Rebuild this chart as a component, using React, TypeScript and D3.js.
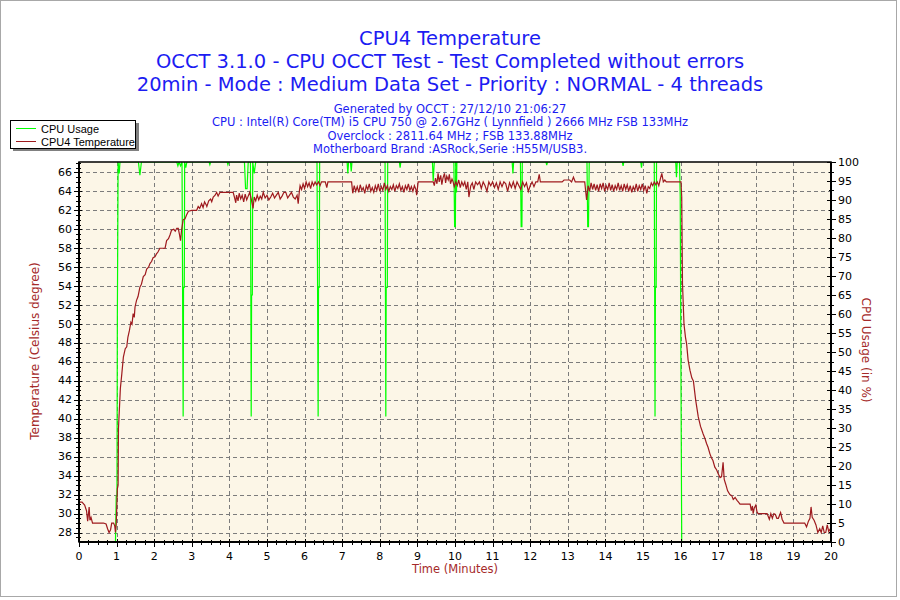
import React from "react";
import * as d3 from "d3";

const titleLines = [
  "CPU4 Temperature",
  "OCCT 3.1.0 - CPU OCCT Test - Test Completed without errors",
  "20min - Mode : Medium Data Set - Priority : NORMAL - 4 threads",
];
const infoLines = [
  "Generated by OCCT : 27/12/10 21:06:27",
  "CPU : Intel(R) Core(TM) i5 CPU 750 @ 2.67GHz ( Lynnfield ) 2666 MHz FSB 133MHz",
  "Overclock : 2811.64 MHz ; FSB 133.88MHz",
  "Motherboard Brand :ASRock,Serie :H55M/USB3.",
];
const legendLabels = ["CPU Usage", "CPU4 Temperature"];
const xTicks = d3.range(0, 21, 1);
const tempTicks = d3.range(28, 67, 2);
const usageTicks = d3.range(0, 101, 5);

// Temperature series: [minutes, °C]
const tempData: [number, number][] = [
  [0.0, 31.2], [0.08, 31.2], [0.15, 30.9], [0.2, 30.3], [0.23, 29.2], [0.25, 29.9], [0.27, 30.7],
  [0.29, 29.3], [0.32, 29.6], [0.36, 29.0], [0.5, 29.0], [0.65, 29.0], [0.72, 28.9], [0.76, 28.4],
  [0.8, 28.0], [0.84, 28.3], [0.87, 29.0], [0.92, 29.0], [0.95, 28.7], [0.97, 28.0], [0.99, 28.9],
  [1.02, 32.6], [1.04, 33.0], [1.05, 39.0], [1.08, 41.5], [1.1, 43.2], [1.14, 44.8], [1.18, 46.5],
  [1.23, 47.4], [1.27, 47.6], [1.3, 48.6], [1.34, 49.3], [1.38, 50.2], [1.41, 50.0], [1.44, 51.1],
  [1.47, 50.7], [1.49, 51.8], [1.53, 52.5], [1.57, 52.9], [1.62, 53.9], [1.66, 54.2], [1.71, 55.0],
  [1.76, 55.2], [1.8, 55.8], [1.85, 56.0], [1.89, 56.4], [1.93, 56.6], [1.97, 57.0], [2.02, 57.1],
  [2.06, 57.4], [2.1, 57.6], [2.15, 58.0], [2.29, 58.0], [2.33, 58.8], [2.38, 59.0], [2.42, 59.4],
  [2.46, 59.9], [2.52, 60.0], [2.56, 59.8], [2.6, 60.1], [2.64, 60.1], [2.67, 59.5], [2.7, 58.8],
  [2.73, 60.0], [2.77, 61.0], [2.82, 61.1], [2.86, 61.5], [2.91, 61.9], [3.0, 62.0], [3.13, 62.0],
  [3.17, 62.4], [3.21, 62.2], [3.26, 62.7], [3.3, 62.3], [3.34, 62.9], [3.38, 62.6], [3.4, 62.4],
  [3.45, 63.0], [3.5, 63.2], [3.53, 62.9], [3.57, 63.4], [3.62, 63.6], [3.66, 63.9], [3.7, 63.5],
  [3.75, 63.9], [3.84, 63.9], [4.1, 63.9], [4.14, 63.3], [4.17, 62.8], [4.19, 63.6], [4.23, 63.0],
  [4.26, 63.8], [4.3, 63.2], [4.34, 63.6], [4.38, 62.9], [4.42, 63.7], [4.46, 63.1], [4.5, 63.5],
  [4.54, 63.9], [4.58, 63.2], [4.63, 62.2], [4.66, 63.4], [4.7, 63.0], [4.74, 63.6], [4.78, 63.1],
  [4.82, 63.5], [4.86, 63.2], [4.9, 63.9], [4.95, 63.3], [5.0, 63.6], [5.05, 63.1], [5.1, 63.4],
  [5.15, 63.8], [5.2, 63.3], [5.25, 63.6], [5.3, 63.9], [5.35, 63.2], [5.4, 63.5], [5.45, 63.9],
  [5.5, 63.9], [5.55, 63.3], [5.6, 63.6], [5.65, 63.9], [5.7, 63.4], [5.75, 63.2], [5.8, 63.6],
  [5.83, 62.7], [5.86, 64.0], [5.88, 64.6], [5.92, 64.2], [5.96, 64.8], [6.0, 64.3], [6.04, 65.0],
  [6.08, 64.5], [6.12, 64.9], [6.16, 64.3], [6.2, 65.0], [6.24, 64.6], [6.28, 65.0], [6.32, 64.7],
  [6.37, 65.0], [6.41, 64.6], [6.45, 65.0], [6.55, 65.0], [6.59, 64.4], [6.62, 65.0], [7.25, 65.0],
  [7.28, 63.8], [7.32, 64.6], [7.36, 64.0], [7.4, 64.5], [7.44, 63.9], [7.48, 64.7], [7.52, 64.1],
  [7.56, 64.4], [7.6, 63.8], [7.64, 64.6], [7.68, 64.2], [7.72, 64.8], [7.76, 64.0], [7.8, 64.4],
  [7.84, 63.9], [7.88, 64.6], [7.92, 64.1], [7.96, 64.8], [8.0, 64.0], [8.04, 64.5], [8.08, 64.1],
  [8.12, 64.9], [8.16, 64.2], [8.2, 64.6], [8.24, 64.0], [8.28, 64.5], [8.32, 64.2], [8.36, 64.7],
  [8.4, 64.0], [8.44, 64.6], [8.48, 64.3], [8.52, 64.8], [8.56, 64.1], [8.6, 64.5], [8.64, 63.9],
  [8.68, 64.6], [8.72, 64.2], [8.76, 64.8], [8.8, 64.1], [8.84, 64.5], [8.88, 64.0], [8.92, 64.6],
  [8.96, 64.2], [8.98, 63.6], [9.02, 65.0], [9.42, 65.0], [9.45, 64.6], [9.48, 65.4], [9.52, 64.8],
  [9.55, 65.9], [9.58, 65.0], [9.62, 65.7], [9.65, 64.7], [9.68, 65.4], [9.72, 65.9], [9.75, 64.9],
  [9.78, 65.6], [9.82, 65.2], [9.85, 65.8], [9.88, 64.8], [9.92, 65.3], [9.95, 65.0], [9.98, 64.5],
  [10.02, 65.0], [10.06, 64.6], [10.1, 65.2], [10.14, 64.4], [10.18, 65.0], [10.22, 64.6],
  [10.26, 65.0], [10.3, 64.2], [10.34, 65.0], [10.37, 63.4], [10.42, 64.6], [10.46, 64.9],
  [10.5, 64.2], [10.55, 65.0], [10.6, 64.7], [10.65, 65.0], [10.7, 64.3], [10.75, 65.0],
  [10.8, 64.6], [10.85, 64.0], [10.9, 65.0], [10.95, 64.6], [11.0, 65.0], [11.05, 64.4],
  [11.1, 64.9], [11.15, 64.2], [11.2, 65.0], [11.25, 64.5], [11.3, 65.0], [11.35, 64.8],
  [11.4, 64.0], [11.45, 64.9], [11.5, 64.4], [11.55, 65.0], [11.6, 64.3], [11.65, 65.0],
  [11.7, 64.6], [11.75, 64.2], [11.8, 65.0], [11.85, 64.5], [11.9, 64.9], [11.95, 64.0],
  [12.0, 64.6], [12.05, 65.0], [12.1, 64.5], [12.15, 65.0], [12.2, 65.0], [12.24, 65.8],
  [12.27, 65.0], [12.85, 65.0], [12.9, 65.2], [13.05, 65.2], [13.1, 65.0], [13.15, 65.5],
  [13.2, 65.0], [13.45, 65.0], [13.5, 63.1], [13.54, 64.6], [13.58, 64.0], [13.62, 64.9],
  [13.66, 64.2], [13.7, 64.8], [13.74, 64.1], [13.78, 64.7], [13.82, 64.0], [13.86, 64.8],
  [13.9, 64.3], [13.94, 64.9], [13.98, 64.0], [14.02, 64.6], [14.06, 64.2], [14.1, 64.9],
  [14.14, 64.1], [14.18, 64.7], [14.22, 64.0], [14.26, 64.6], [14.3, 64.2], [14.34, 64.9],
  [14.38, 64.1], [14.42, 64.6], [14.46, 64.0], [14.5, 64.8], [14.54, 64.2], [14.58, 64.7],
  [14.62, 64.0], [14.66, 64.6], [14.7, 63.9], [14.74, 64.5], [14.78, 64.1], [14.82, 64.8],
  [14.86, 64.0], [14.9, 64.6], [14.94, 64.2], [14.98, 64.8], [15.02, 64.1], [15.06, 64.6],
  [15.1, 63.8], [15.14, 64.5], [15.18, 64.3], [15.22, 64.9], [15.26, 64.6], [15.3, 65.0],
  [15.34, 64.7], [15.38, 65.0], [15.42, 64.6], [15.46, 65.3], [15.5, 65.9], [15.54, 65.0],
  [15.58, 65.2], [15.62, 65.0], [16.01, 65.0], [16.03, 63.4], [16.05, 54.3], [16.09, 50.0],
  [16.13, 48.6], [16.16, 47.9], [16.2, 46.2], [16.25, 45.1], [16.3, 44.3], [16.34, 44.0],
  [16.4, 42.0], [16.47, 40.2], [16.53, 39.2], [16.6, 38.4], [16.65, 37.9], [16.69, 37.4],
  [16.73, 37.0], [16.78, 36.3], [16.82, 35.9], [16.86, 35.6], [16.91, 34.9], [16.96, 34.6],
  [17.0, 34.2], [17.05, 33.8], [17.09, 33.9], [17.13, 35.4], [17.16, 33.6], [17.2, 33.1],
  [17.25, 32.4], [17.31, 32.0], [17.36, 31.9], [17.4, 31.5], [17.45, 31.7], [17.5, 31.4],
  [17.54, 31.2], [17.58, 31.0], [17.85, 31.0], [17.88, 30.3], [17.91, 30.8], [17.93, 30.0],
  [17.96, 30.6], [18.0, 30.9], [18.03, 30.2], [18.06, 30.0], [18.3, 30.0], [18.36, 29.4],
  [18.4, 30.0], [18.44, 29.5], [18.48, 30.0], [18.52, 29.9], [18.56, 29.5], [18.6, 29.5],
  [18.66, 30.1], [18.7, 29.4], [18.75, 29.0], [18.82, 29.0], [19.3, 29.0], [19.35, 28.6],
  [19.4, 29.2], [19.44, 29.5], [19.47, 30.7], [19.5, 29.6], [19.55, 29.3], [19.6, 28.8],
  [19.65, 28.0], [19.7, 28.4], [19.74, 28.0], [19.78, 28.7], [19.82, 28.0], [19.86, 28.0],
  [19.9, 28.8], [19.94, 28.1], [19.98, 28.4],
];

// CPU usage series: [minutes, %]
const usageData: [number, number][] = [
  [0, 0], [0.97, 0], [0.99, 12], [1.01, 12], [1.02, 59], [1.04, 100], [1.07, 97], [1.09, 100],
  [1.58, 100], [1.62, 96.5], [1.66, 100], [2.6, 100], [2.63, 99], [2.66, 100], [2.7, 99],
  [2.74, 100], [2.77, 33], [2.78, 67], [2.8, 67], [2.81, 100], [2.84, 98.5], [2.87, 100],
  [3.46, 100], [3.48, 99.3], [3.5, 100], [3.94, 100], [3.96, 99.3], [3.98, 100],
  [4.4, 100], [4.43, 93], [4.47, 93], [4.5, 100], [4.56, 100], [4.58, 33], [4.59, 65],
  [4.61, 65], [4.62, 100], [4.66, 97], [4.7, 100], [6.33, 100], [6.36, 33], [6.37, 67],
  [6.39, 67], [6.4, 100], [7.13, 100], [7.15, 97], [7.17, 100], [7.22, 100], [7.24, 97.5],
  [7.26, 100], [8.14, 100], [8.16, 33], [8.17, 67], [8.2, 67], [8.21, 100], [8.52, 100],
  [8.54, 98.5], [8.56, 100], [9.4, 100], [9.42, 95], [9.45, 100], [9.97, 100], [9.99, 83],
  [10.01, 83], [10.02, 100], [10.04, 92], [10.05, 100], [11.52, 100], [11.54, 97], [11.56, 100],
  [11.74, 100], [11.76, 83], [11.78, 83], [11.79, 100], [12.42, 100], [12.44, 99.2],
  [12.46, 100], [13.51, 100], [13.53, 83], [13.55, 83], [13.57, 100], [14.45, 100], [14.47, 99],
  [14.49, 100], [14.94, 100], [14.96, 98.5], [14.98, 100], [15.3, 100], [15.32, 33], [15.33, 67],
  [15.35, 67], [15.36, 100], [15.87, 100], [15.89, 96], [15.91, 100], [15.97, 100], [15.99, 91],
  [16.01, 43], [16.03, 0], [20, 0],
];

const W = 900;
const H = 600;
const plot = { left: 79, right: 831, top: 162, bottom: 542 };

const FONT = "'DejaVu Sans', Verdana, sans-serif";
const LEGEND_FONT = "'Liberation Sans', Arial, sans-serif";
const TITLE_BLUE = "#1c1cf2";
const DARK_RED = "#a52a2a";
const TEMP_COLOR = "#9e1a1e";
const GREEN = "#00ff00";
const BG = "#fcf6e7";
const GRID = "#7c7c7c";

export default function App() {
  const x = d3.scaleLinear().domain([0, 20]).range([plot.left, plot.right]);
  const yT = d3.scaleLinear().domain([27.0, 67.1]).range([plot.bottom, plot.top]);
  const yU = d3.scaleLinear().domain([0, 100]).range([plot.bottom, plot.top]);

  const tempLine = d3
    .line<[number, number]>()
    .x((d) => x(d[0]))
    .y((d) => yT(d[1]));
  const usageLine = d3
    .line<[number, number]>()
    .x((d) => x(d[0]))
    .y((d) => yU(d[1]));

  const minorX = d3.range(0, 20.001, 0.25).filter((v) => Math.abs(v - Math.round(v)) > 1e-6);
  const minorT = d3.range(27.5, 67.1, 0.5).filter((v) => Math.abs(v / 2 - Math.round(v / 2)) > 1e-6);
  const minorU = d3.range(2.5, 100, 5);

  const cx = W / 2;

  return (
    <svg
      width={W}
      height={H}
      viewBox={`0 0 ${W} ${H}`}
      style={{ position: "absolute", left: 0, top: 0, display: "block", background: "#fff" }}
      fontFamily={FONT}
    >
      <rect x={0.5} y={0.5} width={896} height={596} fill="#fff" stroke="#a8a8a8" />

      {/* Titles */}
      {titleLines.map((t, i) => (
        <text
          key={t}
          x={cx}
          y={38 + i * 23}
          textAnchor="middle"
          dominantBaseline="central"
          fontSize={19.5}
          fill={TITLE_BLUE}
        >
          {t}
        </text>
      ))}
      {infoLines.map((t, i) => (
        <text
          key={t}
          x={cx}
          y={109 + i * 13.4}
          textAnchor="middle"
          dominantBaseline="central"
          fontSize={11.5}
          fill={TITLE_BLUE}
        >
          {t}
        </text>
      ))}

      {/* Plot background */}
      <rect
        x={plot.left}
        y={plot.top}
        width={plot.right - plot.left}
        height={plot.bottom - plot.top}
        fill={BG}
      />

      {/* Grid */}
      <g stroke={GRID} strokeWidth={1} strokeDasharray="4,3">
        {xTicks.slice(1, -1).map((v) => (
          <line key={"gx" + v} x1={Math.round(x(v)) + 0.5} x2={Math.round(x(v)) + 0.5} y1={plot.top} y2={plot.bottom} />
        ))}
        {tempTicks.map((v) => (
          <line key={"gy" + v} x1={plot.left} x2={plot.right} y1={Math.round(yT(v)) + 0.5} y2={Math.round(yT(v)) + 0.5} />
        ))}
      </g>

      <defs>
        <clipPath id="plotClip">
          <rect x={plot.left} y={plot.top} width={plot.right - plot.left} height={plot.bottom - plot.top} />
        </clipPath>
      </defs>

      <g clipPath="url(#plotClip)">
        <path d={usageLine(usageData) || ""} fill="none" stroke={GREEN} strokeWidth={1.2} />
        <path d={tempLine(tempData) || ""} fill="none" stroke={TEMP_COLOR} strokeWidth={1.2} />
      </g>

      {/* Frame */}
      <rect
        x={plot.left}
        y={plot.top}
        width={plot.right - plot.left}
        height={plot.bottom - plot.top}
        fill="none"
        stroke="#000"
        strokeWidth={1.5}
      />
      <line x1={plot.left} x2={plot.left} y1={plot.top} y2={plot.bottom} stroke="#000" strokeWidth={2} />
      <line x1={plot.right} x2={plot.right} y1={plot.top} y2={plot.bottom} stroke="#000" strokeWidth={2} />
      <line x1={plot.left} x2={plot.right} y1={plot.bottom} y2={plot.bottom} stroke="#000" strokeWidth={2} />

      {/* Axis ticks */}
      <g stroke="#000" strokeWidth={1}>
        {tempTicks.map((v) => (
          <line key={"lt" + v} x1={plot.left - 5} x2={plot.left + 3} y1={Math.round(yT(v)) + 0.5} y2={Math.round(yT(v)) + 0.5} />
        ))}
        {minorT.map((v) => (
          <line key={"lm" + v} x1={plot.left - 3} x2={plot.left + 2} y1={Math.round(yT(v)) + 0.5} y2={Math.round(yT(v)) + 0.5} />
        ))}
        {usageTicks.map((v) => (
          <line key={"rt" + v} x1={plot.right - 4} x2={plot.right + 5} y1={Math.round(yU(v)) + 0.5} y2={Math.round(yU(v)) + 0.5} />
        ))}
        {minorU.map((v) => (
          <line key={"rm" + v} x1={plot.right - 2} x2={plot.right + 3} y1={Math.round(yU(v)) + 0.5} y2={Math.round(yU(v)) + 0.5} />
        ))}
        {xTicks.map((v) => (
          <line key={"bt" + v} x1={Math.round(x(v)) + 0.5} x2={Math.round(x(v)) + 0.5} y1={plot.bottom - 3} y2={plot.bottom + 5} />
        ))}
        {minorX.map((v) => (
          <line key={"bm" + v} x1={Math.round(x(v)) + 0.5} x2={Math.round(x(v)) + 0.5} y1={plot.bottom - 2} y2={plot.bottom + 3} />
        ))}
      </g>

      {/* Tick labels */}
      <g fontSize={11} fill="#000">
        {tempTicks.map((v) => (
          <text key={"ll" + v} x={plot.left - 7} y={yT(v)} textAnchor="end" dominantBaseline="central">
            {v}
          </text>
        ))}
        {usageTicks.map((v) => (
          <text key={"rl" + v} x={plot.right + 7} y={yU(v)} textAnchor="start" dominantBaseline="central">
            {v}
          </text>
        ))}
        {xTicks.map((v) => (
          <text key={"bl" + v} x={x(v)} y={556} textAnchor="middle" dominantBaseline="central">
            {v}
          </text>
        ))}
      </g>

      {/* Axis titles */}
      <text
        transform={`translate(35, ${(plot.top + plot.bottom) / 2 - 1}) rotate(-90)`}
        textAnchor="middle"
        dominantBaseline="central"
        fontSize={12}
        fill={DARK_RED}
      >
        Temperature (Celsius degree)
      </text>
      <text
        transform={`translate(866, ${(plot.top + plot.bottom) / 2 - 2}) rotate(90)`}
        textAnchor="middle"
        dominantBaseline="central"
        fontSize={12}
        fill={DARK_RED}
      >
        CPU Usage (in %)
      </text>
      <text x={(plot.left + plot.right) / 2} y={569} textAnchor="middle" dominantBaseline="central" fontSize={11.5} fill={DARK_RED}>
        Time (Minutes)
      </text>

      {/* Legend */}
      <rect x={13} y={123} width={126} height={28} fill="#808080" />
      <rect x={10.5} y={120.5} width={125} height={28} fill="#fff" stroke="#000" strokeWidth={1} />
      <line x1={16} x2={36} y1={128.5} y2={128.5} stroke={GREEN} strokeWidth={1} />
      <line x1={16} x2={36} y1={141.5} y2={141.5} stroke={TEMP_COLOR} strokeWidth={1} />
      <text x={41} y={129} dominantBaseline="central" fontSize={11} fill="#000" fontFamily={LEGEND_FONT}>
        {legendLabels[0]}
      </text>
      <text x={41} y={142} dominantBaseline="central" fontSize={11} fill="#000" fontFamily={LEGEND_FONT}>
        {legendLabels[1]}
      </text>
    </svg>
  );
}
